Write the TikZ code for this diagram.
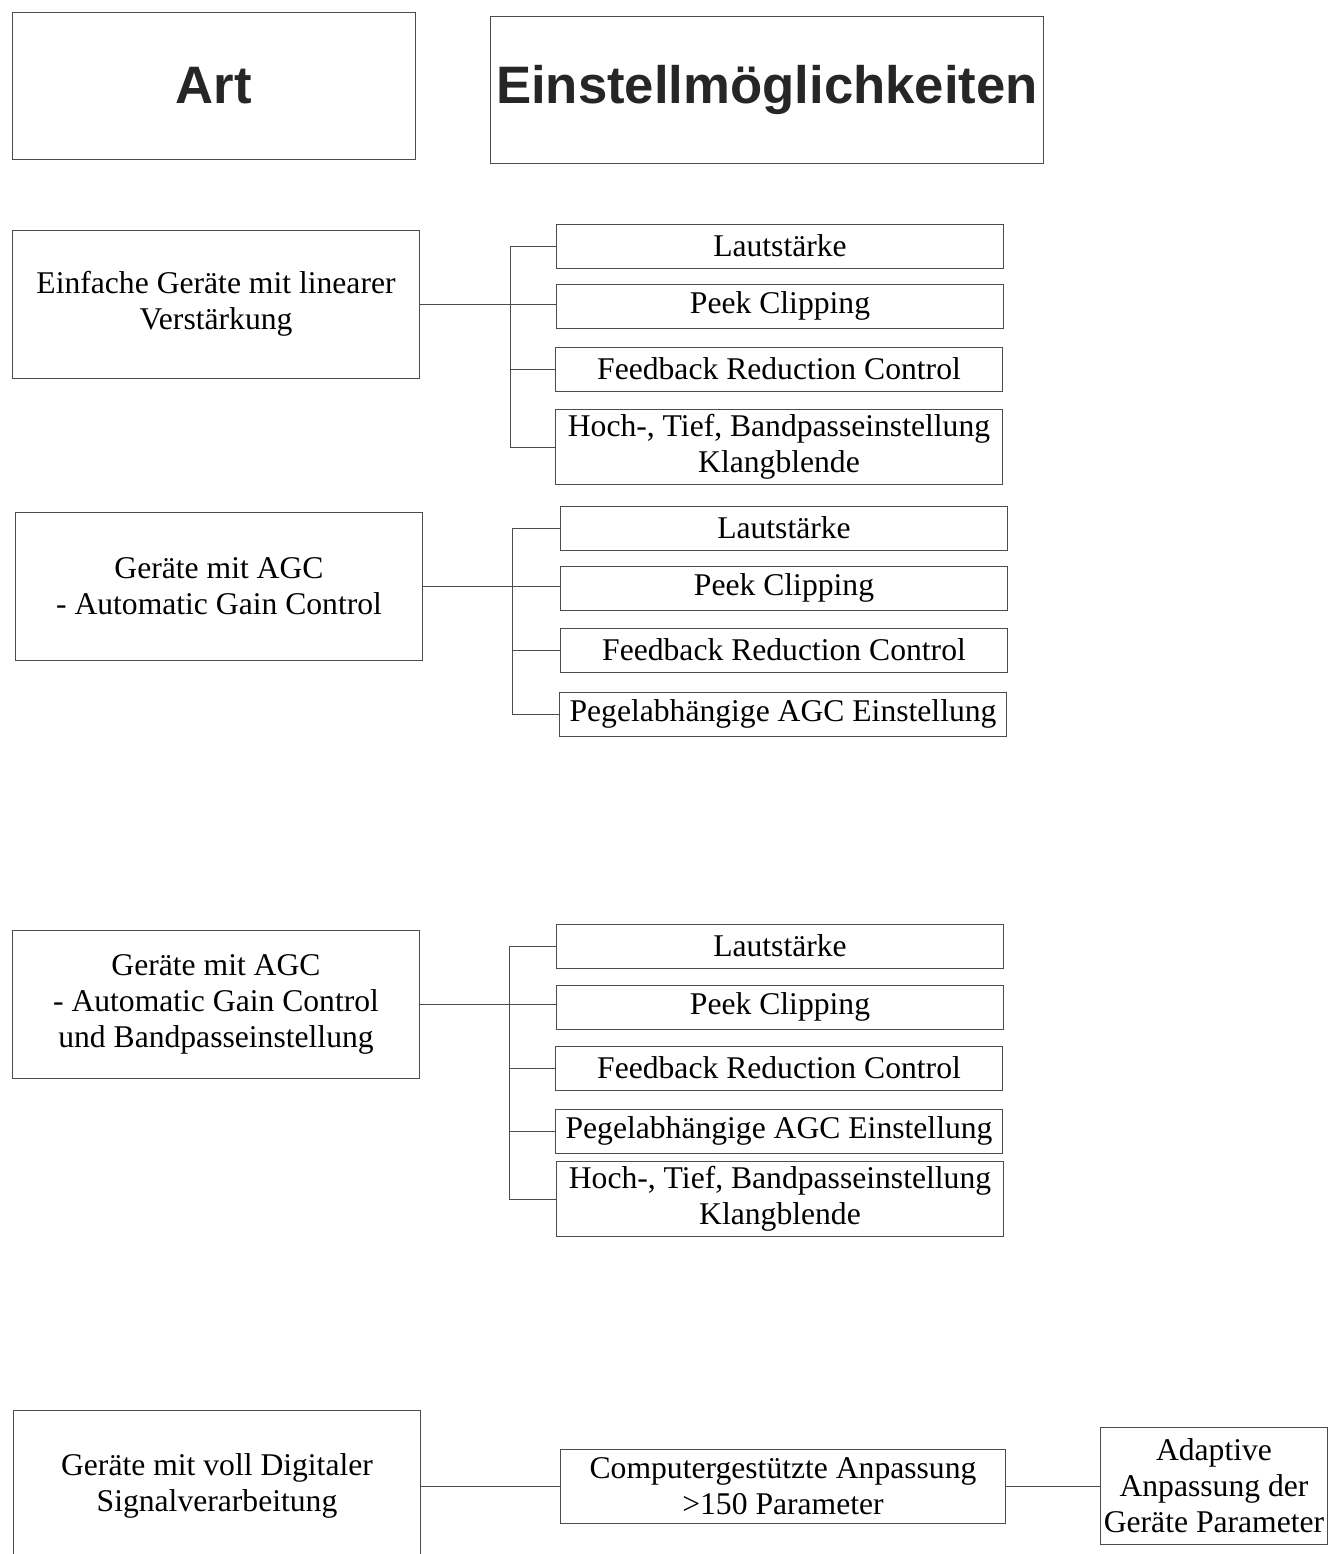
\documentclass[tikz,border=0pt]{standalone}
\usepackage{fontspec}
\setmainfont{Liberation Serif}
\newfontfamily\headfont{Liberation Sans}
\usetikzlibrary{positioning}

\tikzset{
  rahmen/.style={draw=black!70, line width=0.55pt, inner sep=0pt, align=center},
  kopf/.style={rahmen, minimum height=2.96cm, text=black!85,
    font=\headfont\bfseries\fontsize{30}{34}\selectfont},
  geraet/.style={rahmen, minimum width=8.16cm, minimum height=2.96cm,
    font=\fontsize{18}{20.5}\selectfont},
  wahl/.style={rahmen, minimum width=8.94cm, minimum height=0.88cm,
    font=\fontsize{18}{20.5}\selectfont},
  wahlzwei/.style={wahl, minimum height=1.5cm},
  linie/.style={draw=black!70, line width=0.55pt}
}

\begin{document}
\begin{tikzpicture}[x=0.02cm,y=-0.02cm]
  \useasboundingbox (0,0) rectangle (1341,1554);
  \begin{scope}
  \clip (0,0) rectangle (1341,1554);

  % Kopfzeile
  \node[kopf, minimum width=8.08cm] (art) at (214,86) {Art};
  \node[kopf, minimum width=11.08cm] (einst) at (767,90) {Einstellmöglichkeiten};

  % Einfache Geraete
  \node[geraet] (g1) at (216,304) {Einfache Geräte mit linearer\\Verstärkung};
  \node[wahl] (g1a) at (780,246) {Lautstärke};
  \node[wahl] (g1b) at (780,306) {Peek Clipping};
  \node[wahl] (g1c) at (779,369) {Feedback Reduction Control};
  \node[wahlzwei] (g1d) at (779,447) {Hoch-, Tief, Bandpasseinstellung\\Klangblende};
  \coordinate (t1) at (510,0);

  % AGC
  \node[geraet] (g2) at (219,586) {Geräte mit AGC\\- Automatic Gain Control};
  \node[wahl] (g2a) at (784,528) {Lautstärke};
  \node[wahl] (g2b) at (784,588) {Peek Clipping};
  \node[wahl] (g2c) at (784,650) {Feedback Reduction Control};
  \node[wahl] (g2d) at (783,714) {Pegelabhängige AGC Einstellung};
  \coordinate (t2) at (512,0);

  % AGC und Bandpass
  \node[geraet] (g3) at (216,1004) {Geräte mit AGC\\- Automatic Gain Control\\und Bandpasseinstellung};
  \node[wahl] (g3a) at (780,946) {Lautstärke};
  \node[wahl] (g3b) at (780,1007) {Peek Clipping};
  \node[wahl] (g3c) at (779,1068) {Feedback Reduction Control};
  \node[wahl] (g3d) at (779,1131) {Pegelabhängige AGC Einstellung};
  \node[wahlzwei] (g3e) at (780,1199) {Hoch-, Tief, Bandpasseinstellung\\Klangblende};
  \coordinate (t3) at (509,0);

  % Digital
  \node[geraet, minimum height=3.04cm] (g4) at (217,1486) {Geräte mit voll Digitaler\\Signalverarbeitung};
  \node[wahl, minimum width=8.9cm, minimum height=1.48cm] (c4) at (783,1486) {Computergestützte Anpassung\\>150 Parameter};
  \node[rahmen, minimum width=4.52cm, minimum height=2.34cm, font=\fontsize{18}{20.5}\selectfont,
    inner xsep=2pt] (a4) at (1214,1486) {Adaptive\\Anpassung der\\Geräte Parameter};

  % Verbindungen
  \foreach \g/\o/\u in {1/a/d, 2/a/d, 3/a/e} {
    \draw[linie] (g\g.east) -- (g\g.east -| g\g b.west);
    \draw[linie] (g\g\o.west) -| (t\g |- g\g\u.west) -- (g\g\u.west);
  }
  \foreach \g/\z in {1/c, 2/c, 3/c, 3/d}
    \draw[linie] (g\g\z.west) -- (g\g\z.west -| t\g);
  \draw[linie] (g4.east) -- (c4.west) (c4.east) -- (a4.west);
  \end{scope}
\end{tikzpicture}
\end{document}
